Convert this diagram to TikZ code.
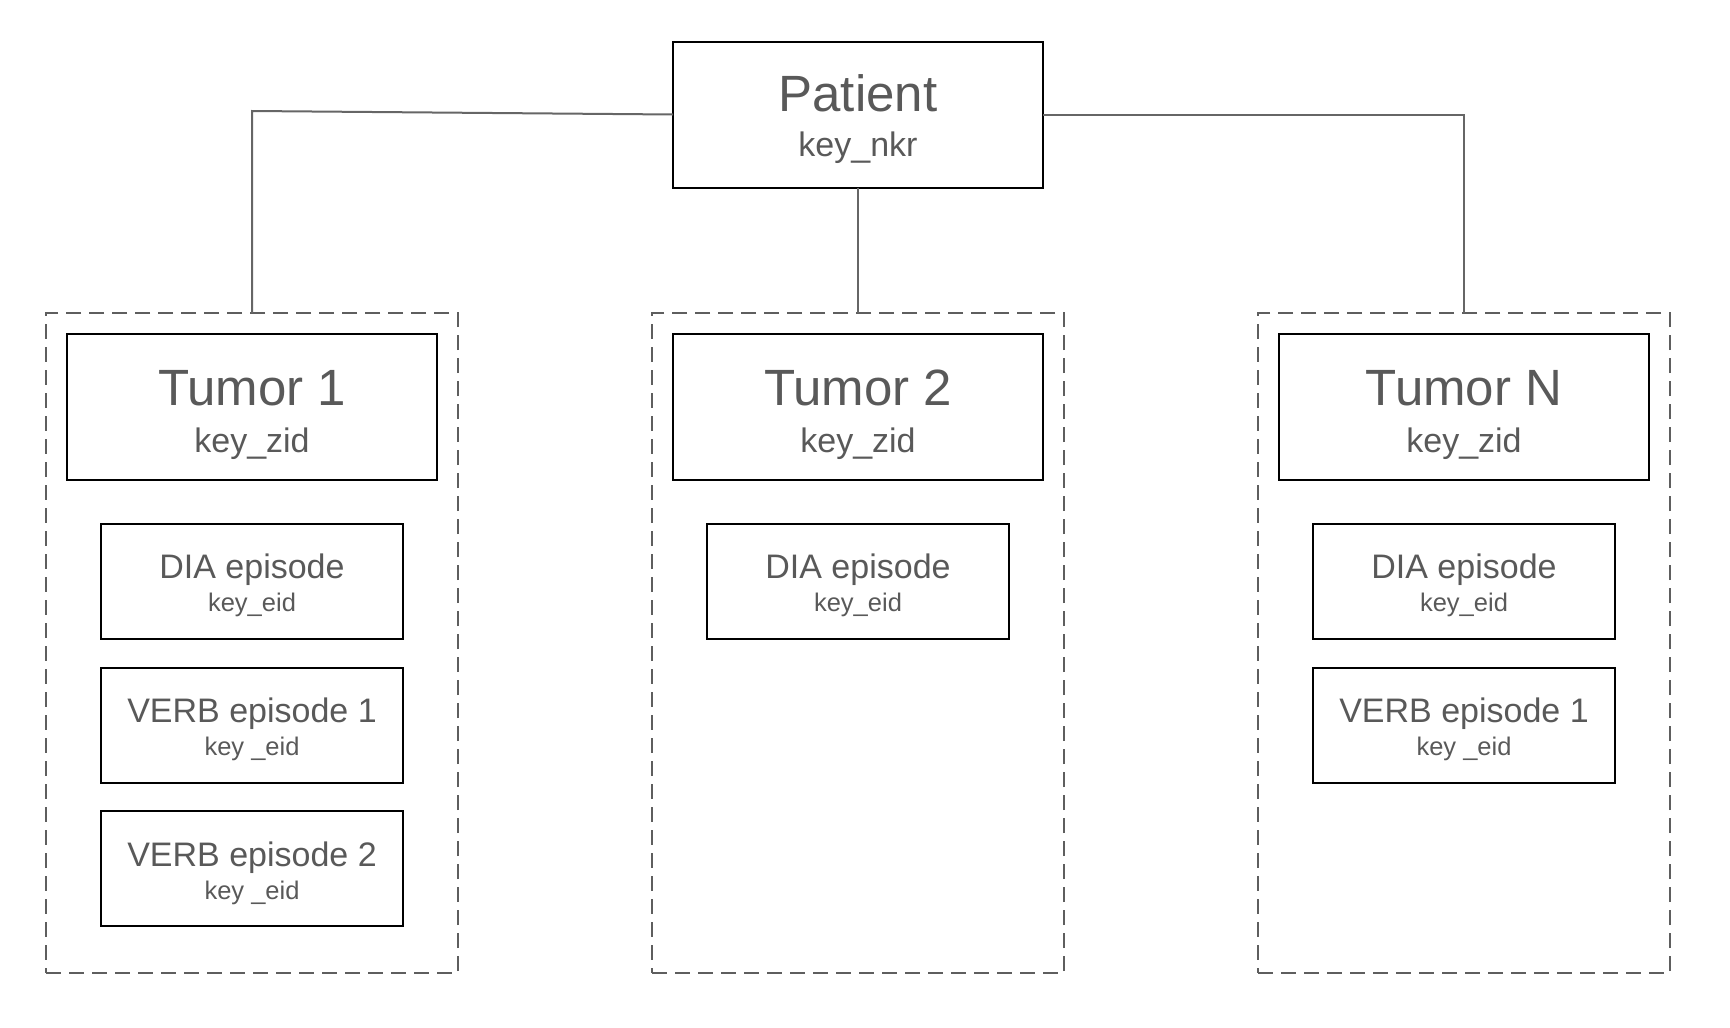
\documentclass[tikz,border=0pt]{standalone}
\usepackage{fontspec}
\setmainfont{Liberation Sans}
\usetikzlibrary{positioning}

\definecolor{textgray}{HTML}{595959}
\definecolor{linegray}{HTML}{666666}
\definecolor{dashgray}{HTML}{5E5E5E}

\begin{document}
\begin{tikzpicture}[x=1pt,y=-1pt,
	entity/.style={draw=black, line width=2pt, outer sep=0pt, inner sep=0pt, minimum width=370pt, minimum height=146pt},
	episode/.style={draw=black, line width=2pt, outer sep=0pt, inner sep=0pt, minimum width=302pt, minimum height=115pt},
	group/.style={draw=dashgray, line width=2pt, dash pattern=on 15pt off 8pt, outer sep=0pt, inner sep=0pt, minimum width=412pt, minimum height=660pt},
	bigname/.style={anchor=base, inner sep=0pt, text=textgray, font=\fontsize{51}{60}\selectfont},
	bigkey/.style={anchor=base, inner sep=0pt, text=textgray, font=\fontsize{34}{40}\selectfont},
	epname/.style={anchor=base, inner sep=0pt, text=textgray, font=\fontsize{34}{40}\selectfont},
	epkey/.style={anchor=base, inner sep=0pt, text=textgray, font=\fontsize{25.5}{30}\selectfont},
	link/.style={draw=linegray, line width=2pt},
]
	\useasboundingbox (0,0) rectangle (1730,1028);

	% create the nodes
	\node (patient) [entity] at (858,114.5) {};
	\node (patientname) [bigname] at ([yshift=-70pt]patient.north) {Patient};
	\node (patientkey) [bigkey] at ([yshift=-115pt]patient.north) {key\_nkr};

	\node (group1) [group] at (252,643) {};
	\node (group2) [group] at (858,643) {};
	\node (groupn) [group] at (1464,643) {};

	\node (tumor1) [entity, below=21pt of group1.north] {};
	\node (tumor1name) [bigname] at ([yshift=-71pt]tumor1.north) {Tumor 1};
	\node (tumor1key) [bigkey] at ([yshift=-118pt]tumor1.north) {key\_zid};
	\node (tumor2) [entity, below=21pt of group2.north] {};
	\node (tumor2name) [bigname] at ([yshift=-71pt]tumor2.north) {Tumor 2};
	\node (tumor2key) [bigkey] at ([yshift=-118pt]tumor2.north) {key\_zid};
	\node (tumorn) [entity, below=21pt of groupn.north] {};
	\node (tumornname) [bigname] at ([yshift=-71pt]tumorn.north) {Tumor N};
	\node (tumornkey) [bigkey] at ([yshift=-118pt]tumorn.north) {key\_zid};

	\node (dia1) [episode, below=44pt of tumor1] {};
	\node (dia1name) [epname] at ([yshift=-54pt]dia1.north) {DIA episode};
	\node (dia1key) [epkey] at ([yshift=-87pt]dia1.north) {key\_eid};
	\node (verb11) [episode, below=28.5pt of dia1] {};
	\node (verb11name) [epname] at ([yshift=-55pt]verb11.north) {VERB episode 1};
	\node (verb11key) [epkey] at ([yshift=-88pt]verb11.north) {key \_eid};
	\node (verb12) [episode, below=28.5pt of verb11] {};
	\node (verb12name) [epname] at ([yshift=-55pt]verb12.north) {VERB episode 2};
	\node (verb12key) [epkey] at ([yshift=-88pt]verb12.north) {key \_eid};

	\node (dia2) [episode, below=44pt of tumor2] {};
	\node (dia2name) [epname] at ([yshift=-54pt]dia2.north) {DIA episode};
	\node (dia2key) [epkey] at ([yshift=-87pt]dia2.north) {key\_eid};

	\node (dian) [episode, below=44pt of tumorn] {};
	\node (diannname) [epname] at ([yshift=-54pt]dian.north) {DIA episode};
	\node (diankey) [epkey] at ([yshift=-87pt]dian.north) {key\_eid};
	\node (verbn1) [episode, below=28.5pt of dian] {};
	\node (verbn1name) [epname] at ([yshift=-55pt]verbn1.north) {VERB episode 1};
	\node (verbn1key) [epkey] at ([yshift=-88pt]verbn1.north) {key \_eid};

	% connect the nodes
	\coordinate (bend1) at (252,111);
	\draw[link] (patient.west) -- (bend1) -- (group1.north);
	\draw[link] (patient.south) -- (group2.north);
	\draw[link] (patient.east) -| (groupn.north);

\end{tikzpicture}
\end{document}
